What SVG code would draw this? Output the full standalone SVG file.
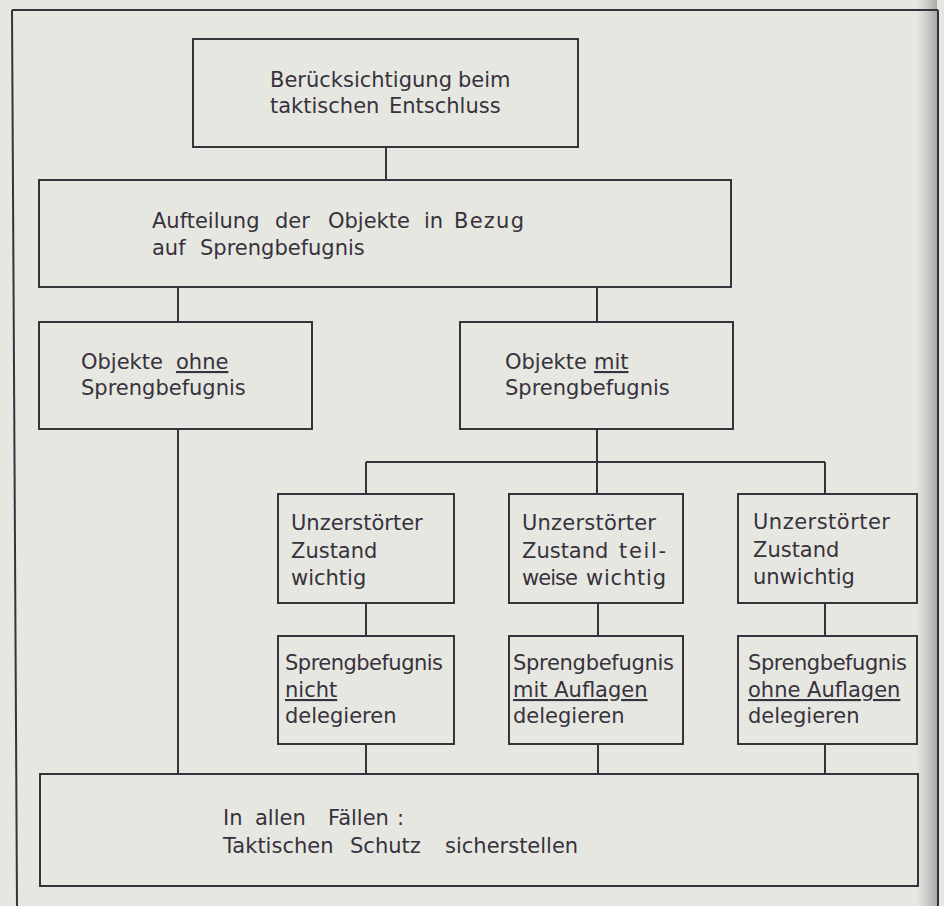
<svg xmlns="http://www.w3.org/2000/svg" width="944" height="906" viewBox="0 0 944 906">
<defs>
<style>
.box{fill:none;stroke:#37323c;stroke-width:2}
.ln{fill:none;stroke:#37323c;stroke-width:2}
text{font-family:"DejaVu Sans","Liberation Sans",sans-serif;font-size:21px;fill:#37323c}
.u{text-decoration:underline}
</style>
<linearGradient id="edge" x1="0" y1="0" x2="1" y2="0">
<stop offset="0" stop-color="#b0b0b0" stop-opacity="0"/>
<stop offset="1" stop-color="#9a9a9a" stop-opacity="0.8"/>
</linearGradient>
</defs>
<rect x="0" y="0" width="944" height="906" fill="#e7e7e2"/>
<rect x="916" y="0" width="21" height="906" fill="url(#edge)"/>
<g id="frame" class="ln">
<line x1="12" y1="10" x2="938" y2="10"/>
<line x1="12" y1="10" x2="17" y2="906"/>
<line x1="938" y1="10" x2="938" y2="906"/>
</g>
<g id="connectors" class="ln">
<line x1="386" y1="147" x2="386" y2="180"/>
<line x1="178" y1="287" x2="178" y2="322"/>
<line x1="597" y1="287" x2="597" y2="322"/>
<line x1="178" y1="429" x2="178" y2="774"/>
<line x1="597" y1="429" x2="597" y2="462"/>
<line x1="366" y1="462" x2="825" y2="462"/>
<line x1="366" y1="462" x2="366" y2="494"/>
<line x1="597" y1="462" x2="597" y2="494"/>
<line x1="825" y1="462" x2="825" y2="494"/>
<line x1="366" y1="603" x2="366" y2="636"/>
<line x1="598" y1="603" x2="598" y2="636"/>
<line x1="825" y1="603" x2="825" y2="636"/>
<line x1="366" y1="744" x2="366" y2="774"/>
<line x1="598" y1="744" x2="598" y2="774"/>
<line x1="825" y1="744" x2="825" y2="774"/>
</g>
<g id="n1">
<rect class="box" x="193" y="39" width="385" height="108"/>
<text y="87"><tspan x="270">Berücksichtigung</tspan><tspan x="458">beim</tspan></text>
<text y="113"><tspan x="270">taktischen</tspan><tspan x="389">Entschluss</tspan></text>
</g>
<g id="n2">
<rect class="box" x="39" y="180" width="692" height="107"/>
<text y="228"><tspan x="152">Aufteilung</tspan><tspan x="275">der</tspan><tspan x="328">Objekte</tspan><tspan x="424">in</tspan><tspan x="454" textLength="70">Bezug</tspan></text>
<text y="255"><tspan x="152">auf</tspan><tspan x="200">Sprengbefugnis</tspan></text>
</g>
<g id="n3">
<rect class="box" x="39" y="322" width="273" height="107"/>
<text y="369"><tspan x="81">Objekte</tspan><tspan x="176" class="u">ohne</tspan></text>
<text x="81" y="395">Sprengbefugnis</text>
</g>
<g id="n4">
<rect class="box" x="460" y="322" width="273" height="107"/>
<text y="369"><tspan x="505">Objekte</tspan><tspan x="594" class="u">mit</tspan></text>
<text x="505" y="395">Sprengbefugnis</text>
</g>
<g id="n5a">
<rect class="box" x="278" y="494" width="176" height="109"/>
<text x="291" y="530">Unzerstörter</text>
<text x="291" y="558">Zustand</text>
<text x="291" y="585">wichtig</text>
</g>
<g id="n5b">
<rect class="box" x="509" y="494" width="174" height="109"/>
<text x="522" y="530" textLength="134">Unzerstörter</text>
<text y="558"><tspan x="522">Zustand</tspan><tspan x="619" textLength="47">teil-</tspan></text>
<text y="585"><tspan x="522" textLength="56">weise</tspan><tspan x="586" textLength="80">wichtig</tspan></text>
</g>
<g id="n5c">
<rect class="box" x="738" y="494" width="179" height="109"/>
<text x="753" y="529" textLength="137">Unzerstörter</text>
<text x="753" y="557">Zustand</text>
<text x="753" y="584">unwichtig</text>
</g>
<g id="n6a">
<rect class="box" x="278" y="636" width="176" height="108"/>
<text x="285" y="670" textLength="158">Sprengbefugnis</text>
<text x="285" y="697" class="u">nicht</text>
<text x="285" y="723">delegieren</text>
</g>
<g id="n6b">
<rect class="box" x="509" y="636" width="174" height="108"/>
<text x="513" y="670" textLength="161">Sprengbefugnis</text>
<text x="513" y="697" class="u">mit Auflagen</text>
<text x="513" y="723">delegieren</text>
</g>
<g id="n6c">
<rect class="box" x="738" y="636" width="179" height="108"/>
<text x="748" y="670" textLength="159">Sprengbefugnis</text>
<text x="748" y="697" class="u">ohne Auflagen</text>
<text x="748" y="723">delegieren</text>
</g>
<g id="n7">
<rect class="box" x="40" y="774" width="878" height="112"/>
<text y="825"><tspan x="223">In</tspan><tspan x="255">allen</tspan><tspan x="328">Fällen</tspan><tspan x="397">:</tspan></text>
<text y="853"><tspan x="223">Taktischen</tspan><tspan x="350">Schutz</tspan><tspan x="445">sicherstellen</tspan></text>
</g>
</svg>
